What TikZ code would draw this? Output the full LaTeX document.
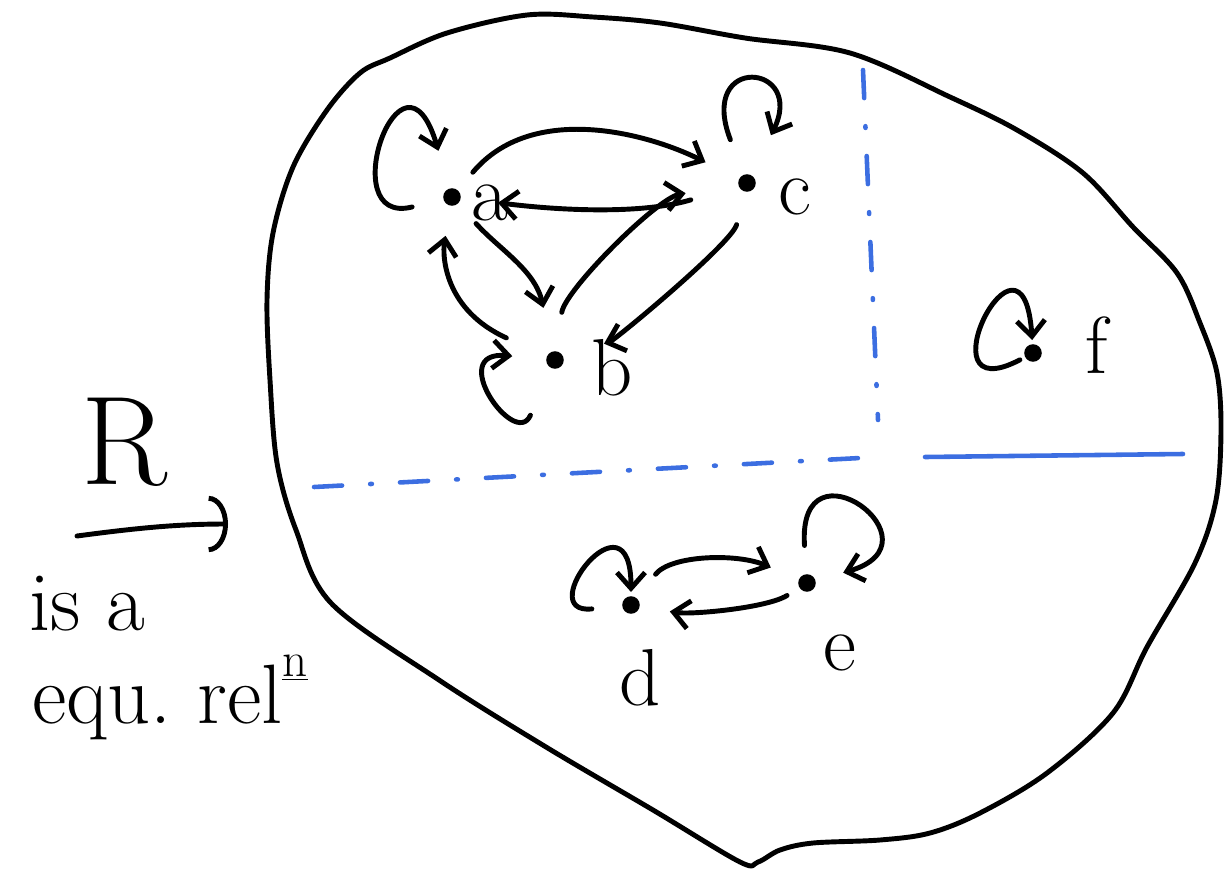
\documentclass[tikz,border=0pt]{standalone}
\usetikzlibrary{arrows.meta}
\definecolor{penblue}{RGB}{60,110,225}
\begin{document}
\begin{tikzpicture}[x=0.02cm, y=-0.02cm, line width=2.8pt, line cap=round, line join=round,
    dot/.style={circle, fill, inner sep=0pt, minimum size=10pt},
    lbl/.style={inner sep=0pt, font=\fontsize{46}{50}\selectfont},
    note/.style={inner sep=0pt, anchor=base west, font=\fontsize{48}{52}\selectfont},
    rel/.style={-{Straight Barb[length=9pt, width=16pt]}},
    splitline/.style={penblue, line width=2.6pt, dash pattern=on 16pt off 16pt on 1pt off 16pt}]
    \useasboundingbox (0,0) rectangle (1230,872);
    % the set, one closed hand-drawn outline
    \draw plot[smooth cycle, tension=0.55] coordinates {(390,58) (447,33) (527,15) (593,17) (660,23)
        (745,38) (850,53) (950,97) (1017,130) (1083,173) (1133,227) (1177,273) (1200,323) (1217,373)
        (1221,430) (1216,500) (1195,563) (1147,647) (1113,713) (1047,773) (980,813) (930,833)
        (880,840) (813,843) (780,850) (758,862) (740,862) (653,810) (546,747) (439,680) (331,603)
        (296,530) (277,463) (270,380) (267,300) (273,233) (293,167) (327,110) (360,73)};
    % the cuts between the classes
    \coordinate (vtop) at (863,70);
    \coordinate (vbot) at (878,420);
    \coordinate (hleft) at (314,487);
    \coordinate (hmid) at (860,458);
    \coordinate (hstart) at (925,457);
    \coordinate (hend) at (1183,454);
    \draw[splitline] (vtop) -- (vbot);
    \draw[splitline] (hleft) -- (hmid);
    \draw[penblue, line width=2.6pt] (hstart) -- (hend);
    % the points and their names
    \foreach \n/\x/\y in {a/452/197, b/555/360, c/747/183, d/631/605, e/807/583, f/1033/353}
        \node[dot] (\n) at (\x,\y) {};
    \foreach \n/\x/\y in {a/490/203, b/612/368, c/795/197, d/640/678, e/840/653, f/1097/345}
        \node[lbl] (\n-lbl) at (\x,\y) {\n};
    % loops
    \draw[rel, shorten <=17pt, shorten >=21pt] (a) .. controls +(-120,30) and +(-50,-170) .. (a);
    \draw[rel, shorten <=20pt, shorten >=24pt] (c) .. controls +(-50,-130) and +(60,-120) .. (c);
    \draw[rel, shorten <=28pt, shorten >=18pt] (b) .. controls +(-40,90) and +(-110,-10) .. (b);
    \draw[rel, shorten <=16pt, shorten >=1pt] (d) .. controls +(-100,10) and +(0,-120) .. (d);
    \draw[rel, shorten <=15pt, shorten >=15pt] (e) .. controls +(-10,-150) and +(140,-40) .. (e);
    \draw[rel, shorten <=2pt, shorten >=1pt] (f) .. controls +(-115,60) and +(-10,-150) .. (f);
    % the relation between different points
    \draw[rel, shorten <=12pt, shorten >=20pt] (a) .. controls +(80,-95) and +(-100,-50) .. (c);
    \draw[rel, shorten <=27pt, shorten >=20pt] (c) .. controls +(-100,30) and +(120,15) .. (a);
    \draw[rel, shorten <=14pt, shorten >=24pt] (a) .. controls +(48,53) and +(-20,-90) .. (b);
    \draw[rel, shorten <=24pt, shorten >=16pt] (b) .. controls +(-110,-50) and +(-10,60) .. (a);
    \draw[rel, shorten <=21pt, shorten >=29pt] (b) .. controls +(10,-70) and +(-90,15) .. (c);
    \draw[rel, shorten <=18pt, shorten >=23pt] (c) .. controls +(-15,60) and +(60,-20) .. (b);
    \draw[rel, shorten <=16pt, shorten >=16pt] (d) .. controls +(40,-50) and +(-70,-30) .. (e);
    \draw[rel, shorten <=7pt, shorten >=16pt] (e) .. controls +(-40,25) and +(60,10) .. (d);
    % the note on the left
    \node[inner sep=0pt, font=\fontsize{72}{76}\selectfont] (rname) at (125,442) {R};
    \coordinate (rtail) at (77,536);
    \coordinate (rhead) at (228,524);
    \draw[-{Arc Barb[length=11pt, width=32pt]}] (rtail) .. controls +(60,-8) and +(-50,0) .. (rhead);
    \node[note] (isa) at (27,630) {is a};
    \node[note] (equiv) at (30,723) {equ.\ rel\raisebox{0.55em}{\fontsize{28}{30}\selectfont\underline{n}}};
\end{tikzpicture}
\end{document}
